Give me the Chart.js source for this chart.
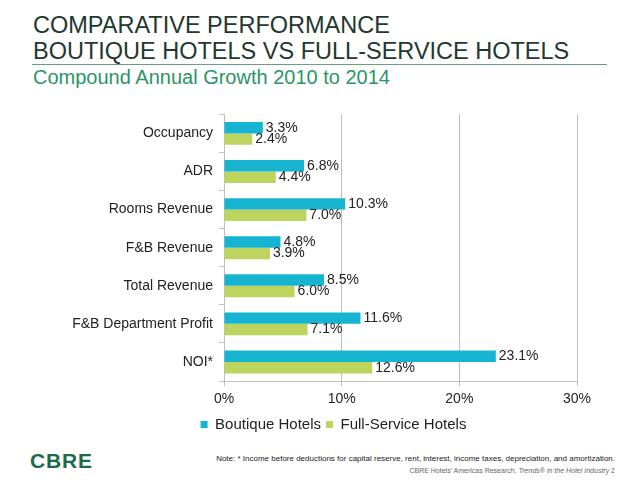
<!DOCTYPE html>
<html>
<head>
<meta charset="utf-8">
<script src="https://cdn.jsdelivr.net/npm/chart.js@4"></script>
<style>
  body { margin: 0; width: 640px; height: 492px; background: #fff; font-family: "Liberation Sans", Arial, sans-serif; position: relative; overflow: hidden; }
  .t1 { position: absolute; left: 33px; top: 12px; font-size: 23.5px; line-height: 26px; color: #22382f; }
  .rule { position: absolute; left: 32px; top: 64px; width: 575px; height: 1px; background: #6e9a8c; }
  .sub { position: absolute; left: 33px; top: 66px; font-size: 20px; color: #2a9566; }
  .logo { position: absolute; left: 30px; top: 449px; font-size: 21px; font-weight: bold; color: #1c6b4e; letter-spacing: 0.8px; }
  .note { position: absolute; right: 25px; top: 454px; font-size: 8px; color: #222; }
  .src { position: absolute; right: 25px; top: 467px; font-size: 7px; color: #666; }
  #wrap { position: absolute; left: 0; top: 100px; width: 640px; height: 342px; }
</style>
</head>
<body>
<div class="t1">COMPARATIVE PERFORMANCE<br>BOUTIQUE HOTELS VS FULL-SERVICE HOTELS</div>
<div class="rule"></div>
<div class="sub">Compound Annual Growth 2010 to 2014</div>
<div id="wrap"><canvas id="myChart"></canvas></div>
<div class="logo">CBRE</div>
<div class="note">Note: * Income before deductions for capital reserve, rent, interest, income taxes, depreciation, and amortization.</div>
<div class="src">CBRE Hotels' Americas Research, <i>Trends® in the Hotel Industry</i> 2</div>
<script>
const categories = ['Occupancy', 'ADR', 'Rooms Revenue', 'F&B Revenue', 'Total Revenue', 'F&B Department Profit', 'NOI*']
const boutique = [3.3, 6.8, 10.3, 4.8, 8.5, 11.6, 23.1]
const fullService = [2.4, 4.4, 7.0, 3.9, 6.0, 7.1, 12.6]
const xTicks = [0, 10, 20, 30]

const FONT = '"Liberation Sans", Arial, sans-serif'

// labels at the end of each bar
const barLabels = {
  id: 'barLabels',
  afterDatasetsDraw(chart) {
    const ctx = chart.ctx
    ctx.save()
    ctx.font = '14px ' + FONT
    ctx.fillStyle = '#222'
    ctx.textBaseline = 'middle'
    chart.data.datasets.forEach((ds, i) => {
      chart.getDatasetMeta(i).data.forEach((bar, j) => {
        ctx.fillText(ds.data[j].toFixed(1) + '%', bar.x + 3, bar.y)
      })
    })
    ctx.restore()
  }
}

// legend in the original sits a bit right of centre
const legendShift = {
  id: 'legendShift',
  afterLayout(chart) {
    chart.legend.left += 90
  }
}

const ctx = document.getElementById('myChart').getContext('2d')
new Chart(ctx, {
  type: 'bar',
  data: {
    labels: categories,
    datasets: [
      { label: 'Boutique Hotels', data: boutique, backgroundColor: '#17b4d2', categoryPercentage: 0.6, barPercentage: 1.0 },
      { label: 'Full-Service Hotels', data: fullService, backgroundColor: '#bdd45f', categoryPercentage: 0.6, barPercentage: 1.0 }
    ]
  },
  options: {
    indexAxis: 'y',
    responsive: true,
    maintainAspectRatio: false,
    animation: false,
    layout: { padding: { top: 12, right: 63, left: 0, bottom: 0 } },
    plugins: {
      legend: {
        position: 'bottom',
        labels: {
          usePointStyle: true, pointStyle: 'rect', boxWidth: 7, boxHeight: 7,
          color: '#222', font: { size: 15, family: FONT }, padding: 5
        }
      },
      tooltip: { enabled: false }
    },
    scales: {
      x: {
        min: 0, max: 30,
        afterBuildTicks: s => { s.ticks = xTicks.map(v => ({ value: v })) },
        afterFit: s => { s.height = 31 },
        ticks: { callback: v => v + '%', color: '#222', font: { size: 14, family: FONT }, padding: 5 },
        grid: { color: '#bfbfbf', tickLength: 5 },
        border: { color: '#bfbfbf' }
      },
      y: {
        afterFit: s => { s.width = 224 },
        ticks: { color: '#222', font: { size: 14, family: FONT }, padding: 6 },
        grid: { offset: true, drawOnChartArea: false, color: '#bfbfbf', tickLength: 5 },
        border: { color: '#bfbfbf' }
      }
    }
  },
  plugins: [barLabels, legendShift]
})
</script>
</body>
</html>
